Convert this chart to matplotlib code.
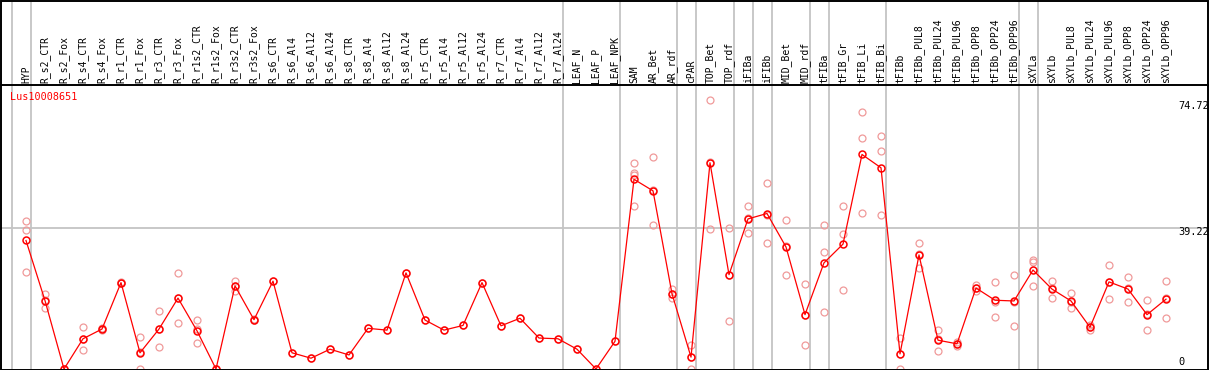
import matplotlib
matplotlib.use('Agg')
import matplotlib.pyplot as plt
from matplotlib.lines import Line2D
from matplotlib.patches import Rectangle

plt.rcParams['font.family'] = ['DejaVu Sans Mono']

# sample names (one column each)
samples = ['HYP', 'R_s2_CTR', 'R_s2_Fox', 'R_s4_CTR', 'R_s4_Fox', 'R_r1_CTR', 'R_r1_Fox',
           'R_r3_CTR', 'R_r3_Fox', 'R_r1s2_CTR', 'R_r1s2_Fox', 'R_r3s2_CTR', 'R_r3s2_Fox',
           'R_s6_CTR', 'R_s6_Al4', 'R_s6_Al12', 'R_s6_Al24', 'R_s8_CTR', 'R_s8_Al4',
           'R_s8_Al12', 'R_s8_Al24', 'R_r5_CTR', 'R_r5_Al4', 'R_r5_Al12', 'R_r5_Al24',
           'R_r7_CTR', 'R_r7_Al4', 'R_r7_Al12', 'R_r7_Al24', 'LEAF_N', 'LEAF_P', 'LEAF_NPK',
           'SAM', 'AR_Bet', 'AR_rdf', 'cPAR', 'TOP_Bet', 'TOP_rdf', 'iFIBa', 'iFIBb',
           'MID_Bet', 'MID_rdf', 'tFIBa', 'tFIB_Gr', 'tFIB_Li', 'tFIB_Bi', 'tFIBb',
           'tFIBb_PUL8', 'tFIBb_PUL24', 'tFIBb_PUL96', 'tFIBb_OPP8', 'tFIBb_OPP24',
           'tFIBb_OPP96', 'sXYLa', 'sXYLb', 'sXYLb_PUL8', 'sXYLb_PUL24', 'sXYLb_PUL96',
           'sXYLb_OPP8', 'sXYLb_OPP24', 'sXYLb_OPP96']

# mean expression per sample
means = [35.7, 19.0, 0.0, 8.4, 11.1, 24.0, 4.5, 11.1, 19.7, 10.6, 0.0, 23.1, 13.7,
         24.4, 4.5, 3.0, 5.5, 3.9, 11.3, 10.8, 26.7, 13.6, 10.8, 12.1, 24.0,
         12.0, 14.1, 8.6, 8.4, 5.5, 0.0, 7.7,
         52.7, 49.5, 20.9, 3.3, 57.3, 26.2, 41.7, 43.2, 33.9, 15.1, 29.5, 34.7, 59.6, 55.9,
         4.2, 31.7, 8.0, 7.0, 22.5, 19.1, 18.9, 27.5, 22.2, 18.9, 11.6, 24.2, 22.2, 15.1, 19.4]

# replicate values per sample
replicates = [[41.0, 38.6, 26.9], [20.8, 19.3, 16.9], [0, 0, 0], [11.6, 8.4, 5.2],
              [11.3, 11.0, 10.9], [24.2, 24.0, 23.8], [8.8, 4.7, 0], [16.1, 11.2, 6.0],
              [26.7, 19.6, 12.8], [13.6, 11.0, 7.2], [0, 0, 0], [24.5, 23.1, 21.7],
              [14.0, 13.6, 13.5], [24.4], [4.5], [3.0], [5.5], [3.9], [11.3], [10.8],
              [26.7], [13.6], [10.8], [12.1], [24.0], [12.0], [14.1], [8.6], [8.4],
              [5.5], [0.0], [7.7],
              [57.3, 54.5, 53.9, 45.3], [58.8, 49.6, 40.1], [22.3, 20.7, 19.7],
              [6.7, 3.2, 0], [74.72, 57.6, 38.9], [39.2, 26.1, 13.3], [45.4, 41.9, 37.8],
              [51.6, 42.9, 35.1], [41.5, 34.1, 26.1], [23.6, 15.1, 6.6],
              [40.1, 32.5, 15.8], [45.4, 37.6, 22.0], [71.5, 64.3, 43.4],
              [64.6, 60.7, 42.8], [8.5, 4.1, 0], [35.1, 31.9, 28.1], [10.9, 8.2, 4.9],
              [7.6, 6.9, 6.5], [23.2, 22.6, 21.7], [24.2, 18.7, 14.4], [26.1, 18.7, 11.9],
              [30.3, 29.6, 23.0], [24.4, 22.5, 19.7], [21.1, 18.7, 16.9],
              [12.1, 11.8, 10.9], [28.9, 24.3, 19.4], [25.5, 22.5, 18.6],
              [19.2, 15.3, 10.8], [24.5, 19.6, 14.1]]

# last column index of each tissue group
group_ends = [-1, 0, 28, 31, 34, 35, 37, 38, 39, 41, 42, 45, 52, 53, 60]
y_marks = [0, 39.22, 74.72]
gene = 'Lus10008651'

W, H = 1209, 370
fig = plt.figure(figsize=(W / 100, H / 100), dpi=100)

left, right = 1 / W, 1170 / W
head = 85 / H
ax = fig.add_axes([left, 1 / H, right - left, 1 - head - 1 / H])
hx = fig.add_axes([left, 1 - head, right - left, head])

xs = list(range(len(samples)))
xlim = (-25 / 19, 60 + 4 / 19)
for a in (ax, hx):
    a.set_xlim(*xlim)
    a.set_xticks([])
    a.set_yticks([])
    for s in a.spines.values():
        s.set_visible(False)
    for g in group_ends:
        a.axvline(g + 0.24, color='#c4c4c4', lw=1.3, zorder=0)

hx.set_ylim(0, 1)
for i, name in enumerate(samples):
    hx.text(i, 2 / 85, name, rotation=90, ha='center', va='bottom', fontsize=7)

ax.set_ylim(0, 78.9)
ax.axhline(39.22, xmin=0, xmax=(W - 1) / 1169, color='#c4c4c4', lw=1.3, zorder=0,
           clip_on=False)

# replicates
for i, reps in enumerate(replicates):
    ax.plot([i] * len(reps), reps, 'o', ms=5, mfc='none', mec='#f09a9a', mew=0.9,
            zorder=2)
# means
ax.plot(xs, means, '-', color='red', lw=0.9, zorder=3)
ax.plot(xs, means, 'o', ms=5, mfc='none', mec='red', mew=1.1, zorder=4)

# value labels at the right
offs = {0: 7, 39.22: -4, 74.72: -6}
for v in y_marks:
    ax.annotate(f'{v:g}', xy=(1, v), xycoords=('axes fraction', 'data'),
                xytext=(8, offs[v]), textcoords='offset pixels', va='center',
                ha='left', fontsize=7.4, annotation_clip=False)

ax.annotate(gene, xy=(0, 1), xycoords='axes fraction', xytext=(9, -12),
            textcoords='offset pixels', color='red', fontsize=7.3, va='center')

# frame and header separator
fig.add_artist(Rectangle((0.5 / W, 0.5 / H), (W - 1.5) / W, (H - 1.5) / H,
                         transform=fig.transFigure, fill=False, ec='black', lw=1.4))
fig.add_artist(Line2D([0, 1], [1 - head, 1 - head], transform=fig.transFigure,
                      color='black', lw=1.4))

fig.savefig('out.png', dpi=100)
